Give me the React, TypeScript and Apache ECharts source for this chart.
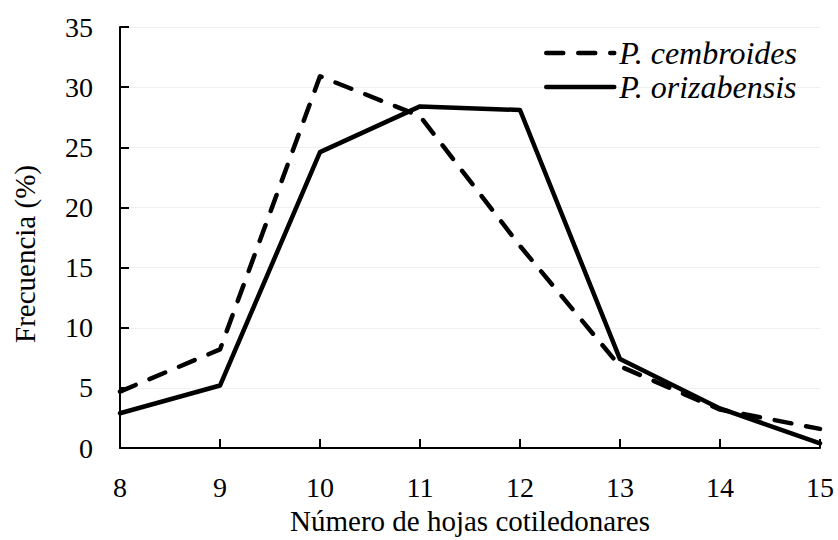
import React, { useEffect, useRef } from "react";
import * as echarts from "echarts";

const hojas = [8, 9, 10, 11, 12, 13, 14, 15];
const cembroides = [4.7, 8.2, 30.9, 27.6, 16.8, 6.8, 3.2, 1.6];
const orizabensis = [2.9, 5.2, 24.6, 28.4, 28.1, 7.4, 3.3, 0.4];
const seriesNames = ["P. cembroides", "P. orizabensis"];
const xTitle = "Número de hojas cotiledonares";
const yTitle = "Frecuencia (%)";

const FONT = "Liberation Serif";

export default function App() {
  const ref = useRef<HTMLDivElement>(null);
  useEffect(() => {
    if (!ref.current) return;
    const chart = echarts.init(ref.current, undefined, { renderer: "svg" });
    const toPairs = (vals: number[]) => hojas.map((h, i) => [h, vals[i]]);
    chart.setOption({
      animation: false,
      backgroundColor: "#ffffff",
      textStyle: { fontFamily: FONT, color: "#000" },
      grid: { left: 120, right: 18, top: 27, bottom: 88, containLabel: false },
      legend: {
        right: 36,
        top: 32,
        orient: "vertical",
        itemWidth: 68,
        itemHeight: 14,
        itemGap: 2,
        itemStyle: { opacity: 0 },
        lineStyle: { width: 4.5, cap: "round" },
        textStyle: { fontFamily: FONT, fontSize: 32, fontStyle: "italic", color: "#000" },
        data: seriesNames,
      },
      graphic: [
        {
          type: "text",
          x: 25,
          y: 254,
          rotation: Math.PI / 2,
          style: {
            text: yTitle,
            fontFamily: FONT,
            fontSize: 29,
            fill: "#000",
            align: "center",
            verticalAlign: "middle",
          },
        },
      ],
      xAxis: {
        type: "value",
        min: 8,
        max: 15,
        interval: 1,
        name: xTitle,
        nameLocation: "middle",
        nameGap: 57,
        nameTextStyle: { fontFamily: FONT, fontSize: 29, color: "#000" },
        axisLine: { lineStyle: { color: "#000", width: 2 } },
        axisTick: { show: true, inside: true, length: 9, lineStyle: { color: "#000", width: 2 } },
        axisLabel: { fontFamily: FONT, fontSize: 28, color: "#000", margin: 25 },
        splitLine: { show: false },
      },
      yAxis: {
        type: "value",
        min: 0,
        max: 35,
        interval: 5,
        axisLine: { show: true, lineStyle: { color: "#000", width: 2 } },
        axisTick: { show: true, inside: true, length: 9, lineStyle: { color: "#000", width: 2 } },
        axisLabel: { fontFamily: FONT, fontSize: 28, color: "#000", margin: 27 },
        splitLine: { show: true, lineStyle: { color: "#efefef", width: 1 } },
      },
      series: [
        {
          name: seriesNames[0],
          type: "line",
          data: toPairs(cembroides),
          symbol: "none",
          color: "#000",
          lineStyle: { color: "#000", width: 4.5, type: [17, 15], cap: "round", join: "round" },
          z: 3,
        },
        {
          name: seriesNames[1],
          type: "line",
          data: toPairs(orizabensis),
          symbol: "none",
          color: "#000",
          lineStyle: { color: "#000", width: 4.5, type: "solid", cap: "round", join: "round" },
          z: 4,
        },
      ],
    });
    return () => chart.dispose();
  }, []);
  return <div ref={ref} style={{ width: 838, height: 540, position: "absolute", left: 0, top: 0 }} />;
}
